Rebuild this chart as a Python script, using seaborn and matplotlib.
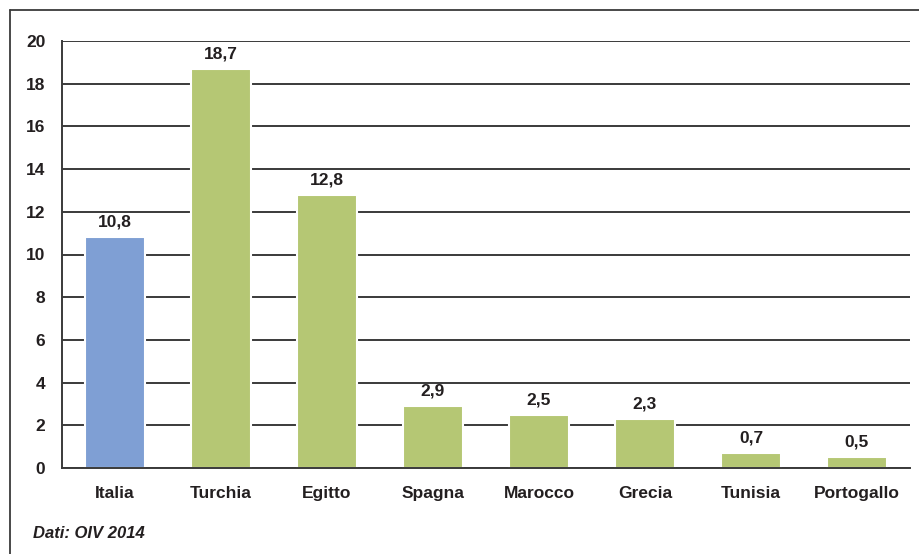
import matplotlib
matplotlib.use("Agg")
import matplotlib.pyplot as plt
from matplotlib.lines import Line2D
import seaborn as sns
import pandas as pd

paesi = ["Italia", "Turchia", "Egitto", "Spagna", "Marocco", "Grecia", "Tunisia", "Portogallo"]
valori = [10.8, 18.7, 12.8, 2.9, 2.5, 2.3, 0.7, 0.5]
etichette = ["10,8", "18,7", "12,8", "2,9", "2,5", "2,3", "0,7", "0,5"]
tick_y = [0, 2, 4, 6, 8, 10, 12, 14, 16, 18, 20]

BLU = "#7f9fd4"
VERDE = "#b5c774"
TESTO = "#231f20"
colori = [BLU] + [VERDE] * (len(paesi) - 1)

sns.set_style("white")
plt.rcParams["font.family"] = ["Liberation Sans Narrow", "Liberation Sans", "DejaVu Sans"]

df = pd.DataFrame({"paese": paesi, "valore": valori})

fig = plt.figure(figsize=(9.2, 5.54), dpi=100)
ax = fig.add_axes([62 / 920, 86 / 554, 848 / 920, 427 / 554])

sns.barplot(data=df, x="paese", y="valore", hue="paese", palette=colori,
            legend=False, width=0.56, ax=ax, edgecolor="white", linewidth=1.5,
            zorder=3, saturation=1)

FS = 12.5
ax.set_ylim(0, 20)
ax.set_xlim(-0.5, len(paesi) - 0.5)
ax.set_yticks(tick_y)
ax.set_yticklabels([str(t) for t in tick_y], fontsize=FS, fontweight="bold", color=TESTO)
ax.set_xticks(range(len(paesi)))
ax.set_xticklabels(paesi, fontsize=FS, fontweight="bold", color=TESTO)
ax.tick_params(axis="y", length=0, pad=12)
ax.tick_params(axis="x", length=0, pad=13)
ax.set_xlabel("")
ax.set_ylabel("")

ax.grid(axis="y", color="#3a3a3a", linewidth=1.4, zorder=0)
ax.set_axisbelow(True)
for s in ["top", "right"]:
    ax.spines[s].set_visible(False)
for s in ["left", "bottom"]:
    ax.spines[s].set_color("#3a3a3a")
    ax.spines[s].set_linewidth(1.4)
    ax.spines[s].set_zorder(4)

for i, (v, t) in enumerate(zip(valori, etichette)):
    ax.text(i, v + 0.35, t, ha="center", va="bottom", fontsize=FS,
            fontweight="bold", color=TESTO, zorder=5)

# cornice esterna
fig.add_artist(Line2D([10 / 920, 1.0], [1 - 10 / 554] * 2, color="#3a3a3a", linewidth=1.3))
fig.add_artist(Line2D([10 / 920] * 2, [0, 1 - 10 / 554], color="#3a3a3a", linewidth=1.3))

fig.text(33 / 920, 1 - 533 / 554, "Dati: OIV 2014", fontsize=12, fontweight="bold",
         fontstyle="italic", color=TESTO, ha="left", va="center")

fig.savefig("out.png", dpi=100)
